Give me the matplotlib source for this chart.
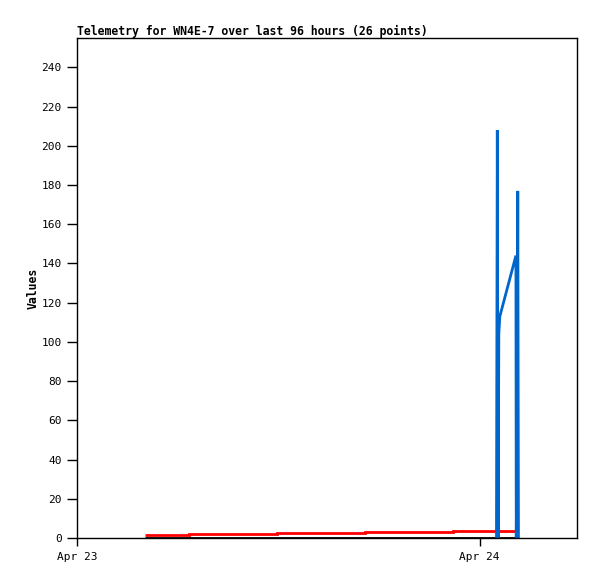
import datetime as dt
import matplotlib
matplotlib.use('Agg')
import matplotlib.pyplot as plt
import matplotlib.dates as mdates

start = dt.datetime(2024, 4, 23)

# hours after Apr 23 00:00
red_hours = [4.05, 6.67, 11.9, 17.15, 22.4, 26.3]
red_values = [1.7, 2.2, 2.7, 3.2, 3.7, 3.7]

black_hours = [4.05, 26.3]
black_values = [0, 0]

blue_hours = [25.0, 25.05, 25.1, 25.14, 25.2, 26.16, 26.18, 26.24, 26.27, 26.31]
blue_values = [0, 208, 0, 104, 113, 144, 0, 80, 177, 0]


def to_dates(hours):
    return [start + dt.timedelta(hours=h) for h in hours]


fig = plt.figure(figsize=(5.97, 5.79), dpi=100)
ax = fig.add_axes([0.129, 0.0708, 0.8375, 0.8636])

style = dict(linewidth=2, solid_capstyle='butt', solid_joinstyle='miter')
ax.plot(to_dates(red_hours), red_values, color='#ff0000', drawstyle='steps-post', **style)
ax.plot(to_dates(black_hours), black_values, color='black', **style)
ax.plot(to_dates(blue_hours), blue_values, color='#0066cc', **style)

ax.set_xlim(start, start + dt.timedelta(hours=29.8))
ax.set_ylim(0, 255)
ax.set_yticks(range(0, 241, 20))
ax.xaxis.set_major_locator(mdates.DayLocator())
ax.xaxis.set_major_formatter(mdates.DateFormatter('%b %d'))

mono = 'DejaVu Sans Mono'
for lab in ax.get_xticklabels() + ax.get_yticklabels():
    lab.set_family(mono)
    lab.set_fontsize(8)
ax.tick_params(axis='y', length=7, width=1, pad=4)
ax.tick_params(axis='x', length=6, width=1, pad=4)

ax.set_title('Telemetry for WN4E-7 over last 96 hours (26 points)', family=mono,
             fontweight='bold', fontsize=8.3, loc='left', pad=2)
ax.set_ylabel('Values', family=mono, fontweight='bold', fontsize=8.3, labelpad=1)

for s in ax.spines.values():
    s.set_linewidth(1)

fig.savefig('out.png', dpi=100)
